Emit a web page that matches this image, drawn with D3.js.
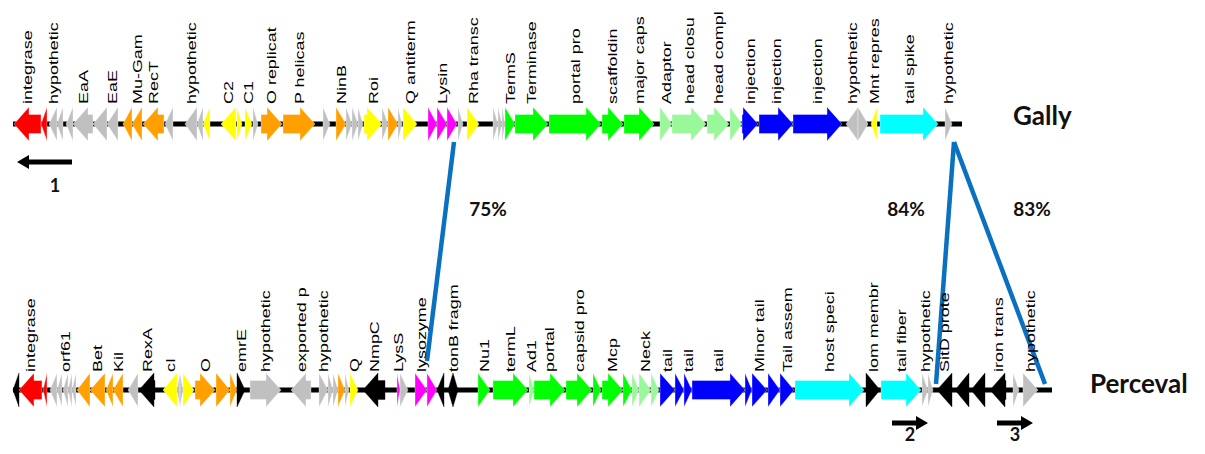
<!DOCTYPE html>
<html><head><meta charset="utf-8">
<script src="https://cdn.jsdelivr.net/npm/d3@7"></script>
<style>
html,body{margin:0;padding:0;background:#fff;}
svg{display:block;}
</style></head>
<body>
<svg id="chart" width="1205" height="454"></svg>
<script>
// ---- data (map positions, strand: 1 right, -1 left, 0 both) ----
const trackNames = ["Gally", "Perceval"];
const gallyExtent = [13, 962];
const percevalExtent = [13, 1052];

const gallyGenes = [
  [14,41,-1,"int","integrase"],[41,47,-1,"int",""],
  [49,57,-1,"hyp","hypothetic"],[57,63,-1,"hyp",""],[66,73,-1,"hyp",""],
  [73,93,-1,"hyp","EaA"],[93,107,-1,"hyp",""],[107,118,-1,"hyp","EaE"],
  [123,132,-1,"rec",""],[132,142,-1,"rec","Mu-Gam"],[143,164,-1,"rec","RecT"],
  [165,173,-1,"hyp",""],[185,197,-1,"hyp","hypothetic"],[197,203,-1,"hyp",""],
  [203,210,-1,"reg",""],[221,236,-1,"reg","C2"],[237,242,1,"reg",""],
  [245,252,1,"reg","C1"],[253,258,1,"hyp",""],
  [261,282,1,"rec","O replicat"],[283,315,1,"rec","P helicas"],
  [323,330,1,"hyp",""],[336,346,1,"rec","NinB"],[346,352,1,"hyp",""],
  [352,358,1,"hyp",""],[358,363,1,"hyp",""],[364,382,1,"reg","Roi"],
  [382,388,1,"hyp",""],[388,398,1,"rec",""],[398,402,1,"hyp",""],
  [403,417,1,"reg","Q antiterm"],
  [428,437,1,"lys",""],[437,447,1,"lys","Lysin"],[447,457,1,"lys",""],
  [458,463,1,"hyp",""],[467,479,1,"reg","Rha transc"],
  [493,498,1,"hyp",""],[498,502,1,"hyp",""],[502,505,1,"hyp",""],
  [505,515,1,"pack","TermS"],[515,548,1,"pack","Terminase"],
  [549,601,1,"pack","portal pro"],[602,623,1,"pack","scaffoldin"],
  [624,654,1,"pack","major caps"],
  [660,672,1,"head","Adaptor"],[672,706,1,"head","head closu"],
  [707,729,1,"head","head compl"],[730,742,1,"head",""],
  [742,758,1,"tail","injection"],[759,793,1,"tail","injection"],
  [793,842,1,"tail","injection"],
  [846,858,-1,"hyp","hypothetic"],[858,868,1,"hyp",""],
  [871,877,-1,"reg","Mnt repres"],[880,938,1,"spec","tail spike"],
  [945,952,1,"hyp","hypothetic"]
];

const percevalGenes = [
  [13,19,-1,"oth",""],[19,42,-1,"int","integrase"],[43,47,-1,"int",""],
  [50,57,-1,"hyp",""],[57,62,-1,"hyp",""],[63,68,-1,"hyp","orf61"],
  [68,72,-1,"hyp",""],[72,76,-1,"hyp",""],
  [77,90,-1,"rec",""],[90,105,-1,"rec","Bet"],[106,113,-1,"rec",""],
  [113,123,-1,"rec","Kil"],[128,138,-1,"hyp",""],[139,155,-1,"oth","RexA"],
  [163,177,-1,"reg","cI"],[177,180,-1,"hyp",""],[180,183,1,"hyp",""],
  [183,194,1,"reg",""],[195,215,1,"rec","O"],[216,230,1,"rec",""],
  [230,237,1,"rec",""],[237,245,1,"oth","emrE"],
  [250,281,1,"hyp","hypothetic"],[291,311,-1,"hyp","exported p"],
  [319,328,1,"hyp","hypothetic"],[328,333,1,"hyp",""],[333,338,1,"hyp",""],
  [338,345,1,"rec",""],[345,349,1,"hyp",""],[350,358,1,"reg","Q"],
  [363,385,-1,"oth","NmpC"],[397,400,1,"lys","LysS"],[400,408,1,"hyp",""],
  [415,427,1,"lys","lysozyme"],[427,437,1,"lys",""],[437,444,-1,"oth",""],
  [448,458,0,"oth","tonB fragm"],
  [478,490,1,"pack","Nu1"],[493,528,1,"pack","termL"],[529,534,1,"head","Ad1"],
  [534,565,1,"pack","portal"],[566,592,1,"pack","capsid pro"],
  [593,601,1,"pack",""],[602,623,1,"pack","Mcp"],[623,632,1,"pack",""],
  [632,639,1,"head",""],[639,651,1,"head","Neck"],[651,659,1,"head",""],
  [660,675,1,"tail","tail"],[675,684,1,"tail",""],[684,692,1,"tail","tail"],
  [692,745,1,"tail","tail"],[745,752,1,"tail",""],[752,767,1,"tail","Minor tail"],
  [768,780,1,"tail",""],[780,794,1,"tail","Tail assem"],
  [795,864,1,"spec","host speci"],[866,880,1,"oth","lom membr"],
  [881,921,1,"spec","tail fiber"],[922,928,1,"hyp","hypothetic"],
  [928,933,1,"hyp",""],
  [937,952,-1,"oth","SitD prote"],[955,969,-1,"oth",""],[971,985,-1,"oth",""],
  [990,1006,-1,"oth","iron trans"],[1013,1019,1,"hyp",""],
  [1023,1038,1,"hyp","hypothetic"]
];

// homology links: [Gally position, Perceval position, identity]
const linkGally = [454, 954, 954];
const linkPerceval = [427, 936, 1045];
const linkIdentity = ["75%", "84%", "83%"];
const linkLabelPos = [488, 906, 1032];

// primer / direction markers: [track, start, end, label]
const markerTrack = [0, 1, 1];
const markerFrom = [72, 892, 997];
const markerTo = [17, 928, 1033];
const markerLabel = ["1", "2", "3"];

// ---- styles ----
const colors = {
  int:"#FF0000", hyp:"#C0C0C0", rec:"#FFA000", reg:"#FFFF00", lys:"#FF00FF",
  pack:"#00FF00", head:"#99F899", tail:"#0000FF", spec:"#00FFFF", oth:"#000000"
};
const trackY = [124, 390];
const labelBase = [104, 372];

const svg = d3.select("#chart");
const x = d3.scaleLinear().domain([0, 1205]).range([0, 1205]);

const BH = 9.5, HH = 17, HEAD = 15;
function genePath(s, e, strand){
  const x0 = x(s), x1 = x(e), len = x1 - x0;
  const h = Math.min(HEAD, len);
  if (strand === 0){
    const m = (x0 + x1) / 2;
    return `M${x0},0L${m},${-HH}L${x1},0L${m},${HH}Z`;
  }
  if (strand > 0){
    if (h >= len) return `M${x0},${-HH}L${x1},0L${x0},${HH}Z`;
    return `M${x0},${-BH}L${x1-h},${-BH}L${x1-h},${-HH}L${x1},0L${x1-h},${HH}L${x1-h},${BH}L${x0},${BH}Z`;
  } else {
    if (h >= len) return `M${x1},${-HH}L${x0},0L${x1},${HH}Z`;
    return `M${x1},${-BH}L${x0+h},${-BH}L${x0+h},${-HH}L${x0},0L${x0+h},${HH}L${x0+h},${BH}L${x1},${BH}Z`;
  }
}

// links (drawn first, beneath)
const linkTop = 142;
const linkBottom = [361, 384, 384];
svg.append("g").selectAll("line").data(linkGally).join("line")
  .attr("x1", d => x(d)).attr("y1", linkTop)
  .attr("x2", (d,i) => x(linkPerceval[i])).attr("y2", (d,i) => linkBottom[i])
  .attr("stroke", "#0A70C0").attr("stroke-width", 4.5);

function drawTrack(ti, genes, extent){
  const g = svg.append("g").attr("transform", `translate(0,${trackY[ti]})`);
  g.append("rect").attr("x", x(extent[0])).attr("y", -2.5)
    .attr("width", x(extent[1]) - x(extent[0])).attr("height", 5).attr("fill", "#000");
  g.selectAll("path.gene").data(genes).join("path").attr("class","gene")
    .attr("d", d => genePath(d[0], d[1], d[2]))
    .attr("fill", d => colors[d[3]])
    .attr("stroke", d => d[3] === "oth" ? "#000" : "#fff")
    .attr("stroke-opacity", 0.6).attr("stroke-width", 0.6);
  const lab = svg.append("g");
  lab.selectAll("text").data(genes.filter(d => d[4])).join("text")
    .attr("transform", d => `translate(${x((d[0]+d[1])/2)},${labelBase[ti]}) rotate(-90) scale(1.38,1)`)
    .attr("dy", "0.36em")
    .attr("font-family", "'Liberation Sans', Arial, sans-serif")
    .attr("font-size", 13).attr("fill", "#000")
    .text(d => d[4]);
}
drawTrack(0, gallyGenes, gallyExtent);
drawTrack(1, percevalGenes, percevalExtent);

// track names
svg.append("g").selectAll("text").data(trackNames).join("text")
  .attr("x", (d,i) => i === 0 ? 1013 : 1090)
  .attr("y", (d,i) => trackY[i] + (i === 0 ? 1 : 3))
  .attr("font-family", "Lato, 'Open Sans', sans-serif").attr("font-weight", "bold")
  .attr("font-size", 26).attr("fill", "#111").text(d => d);

// identity labels
svg.append("g").selectAll("text").data(linkIdentity).join("text")
  .attr("x", (d,i) => x(linkLabelPos[i])).attr("y", 216)
  .attr("text-anchor", "middle")
  .attr("font-family", "Lato, 'Open Sans', sans-serif").attr("font-weight", "bold")
  .attr("font-size", 19).attr("fill", "#111").text(d => d);

// direction markers
const markerY = [162, 423];
const markerLabelY = [192, 441];
const mg = svg.append("g");
markerFrom.forEach((f, i) => {
  const t = markerTo[i], y = markerY[markerTrack[i]];
  const dir = t > f ? 1 : -1;
  const hx = x(t) - dir * 12;
  mg.append("path")
    .attr("d", `M${x(f)},${y-2.5}L${hx},${y-2.5}L${hx},${y-7}L${x(t)},${y}L${hx},${y+7}L${hx},${y+2.5}L${x(f)},${y+2.5}Z`)
    .attr("fill", "#000");
  mg.append("text")
    .attr("x", x(i === 0 ? 55 : (f + t) / 2)).attr("y", markerLabelY[markerTrack[i]])
    .attr("text-anchor", "middle")
    .attr("font-family", "Lato, 'Open Sans', sans-serif").attr("font-weight", "bold")
    .attr("font-size", 18).attr("fill", "#111").text(markerLabel[i]);
});
</script>
</body></html>
